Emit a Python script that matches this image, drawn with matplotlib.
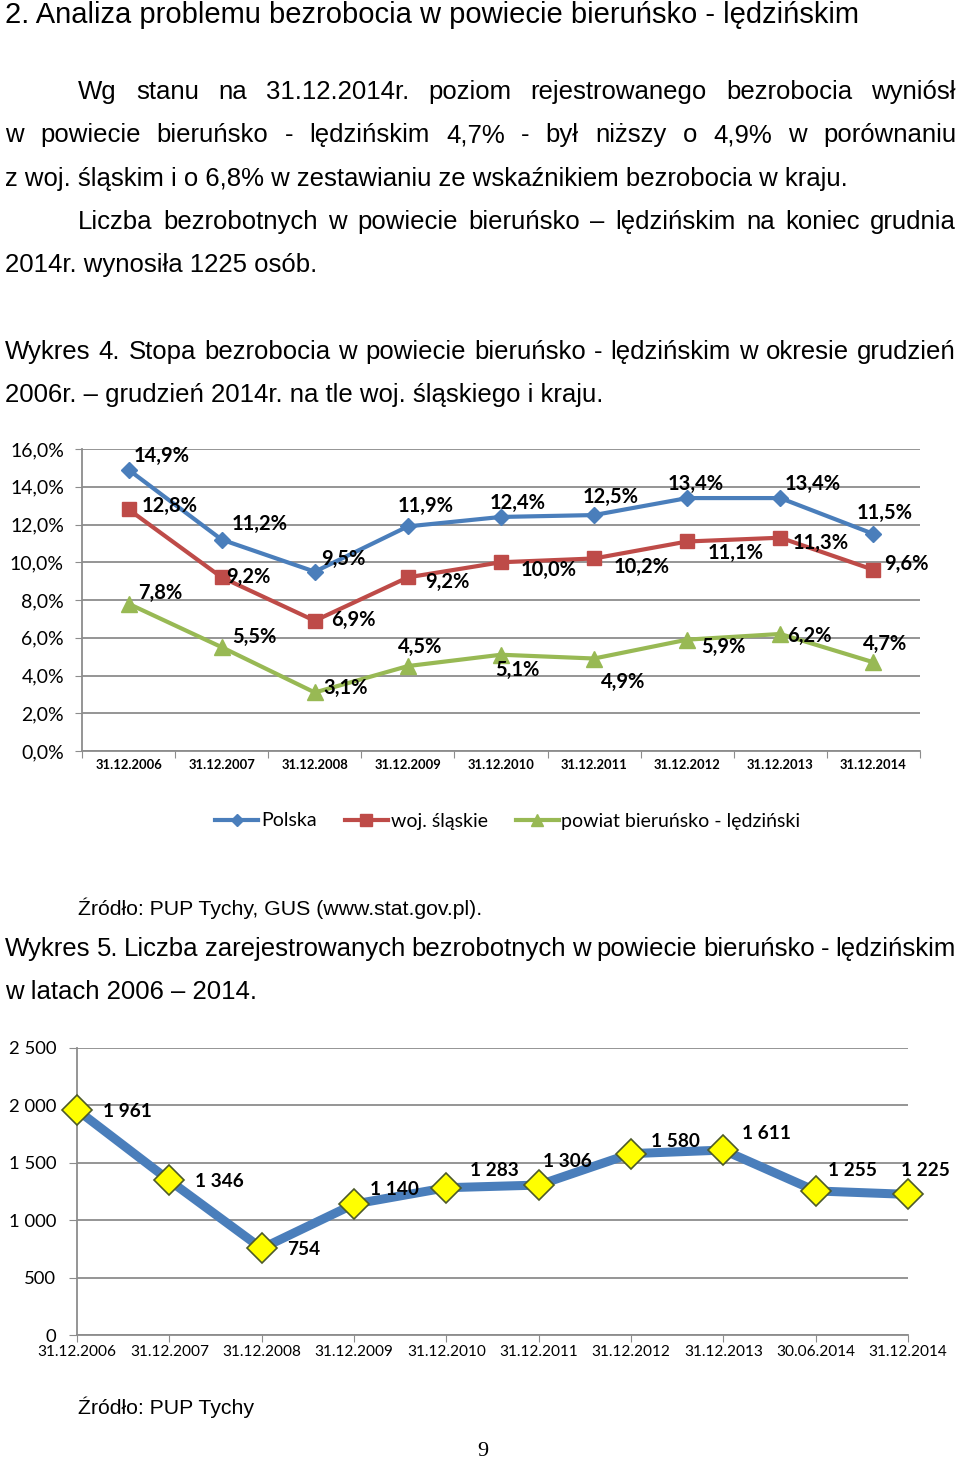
import numpy as np
import matplotlib.pyplot as plt

# ---- data ----
years_1 = ['31.12.2006', '31.12.2007', '31.12.2008', '31.12.2009', '31.12.2010',
           '31.12.2011', '31.12.2012', '31.12.2013', '31.12.2014']
polska = [14.9, 11.2, 9.5, 11.9, 12.4, 12.5, 13.4, 13.4, 11.5]
slaskie = [12.8, 9.2, 6.9, 9.2, 10.0, 10.2, 11.1, 11.3, 9.6]
powiat = [7.8, 5.5, 3.1, 4.5, 5.1, 4.9, 5.9, 6.2, 4.7]
series_names = ['Polska', 'woj. śląskie', 'powiat bieruńsko - lędziński']

dates_2 = ['31.12.2006', '31.12.2007', '31.12.2008', '31.12.2009', '31.12.2010',
           '31.12.2011', '31.12.2012', '31.12.2013', '30.06.2014', '31.12.2014']
bezrobotni = [1961, 1346, 754, 1140, 1283, 1306, 1580, 1611, 1255, 1225]

# label offsets in pixels (dx, dy up) - layout only
off_polska = [(33, 14), (38, 16), (29, 13), (18, 20), (17, 14), (17, 18), (9, 14), (32, 14), (11, 21)]
off_slaskie = [(41, 3), (27, 0), (39, 1), (39, -5), (48, -8), (48, -8), (48, -11), (40, -5), (33, 6)]
off_powiat = [(32, 11), (33, 10), (31, 5), (12, 19), (16, -15), (29, -23), (36, -7), (29, -2), (12, 18)]
off_bezr = [(50, -2), (50, -1), (42, -1), (40, 15), (48, 17), (29, 24), (44, 12), (43, 17), (37, 20), (17, 24)]

W, H = 960, 1464
BODY = 'Liberation Sans'
CHART = 'Lato'
GRID = '#8c8c8c'

fig = plt.figure(figsize=(W / 100, H / 100), dpi=100)
renderer = fig.canvas.get_renderer()


def fx(px):
    return px / W


def fy(py):
    return 1 - py / H


def put(txt, x, y, size=18.5, **kw):
    return fig.text(fx(x), fy(y), txt, fontsize=size, family=BODY, va='center', **kw)


def justify(line, x0, x1, y, size=18.5):
    # spread the words so the line fills x0..x1, like a justified paragraph
    words = line.split(' ')
    arts = [put(w, x0, y, size) for w in words]
    widths = [a.get_window_extent(renderer).width for a in arts]
    gap = (x1 - x0 - sum(widths)) / (len(words) - 1)
    x = x0
    for a, w in zip(arts, widths):
        a.set_x(fx(x))
        x += w + gap


# ---- page text ----
put('2. Analiza problemu bezrobocia w powiecie bieruńsko - lędzińskim', 5, 15, size=21)
justify('Wg stanu na 31.12.2014r. poziom rejestrowanego bezrobocia wyniósł', 78, 956, 92)
justify('w powiecie bieruńsko - lędzińskim 4,7% - był niższy o 4,9% w porównaniu', 5, 956, 135)
put('z woj. śląskim i o 6,8% w zestawianiu ze wskaźnikiem bezrobocia w kraju.', 5, 179)
justify('Liczba bezrobotnych w powiecie bieruńsko – lędzińskim na koniec grudnia', 78, 956, 222)
put('2014r. wynosiła 1225 osób.', 5, 265)
justify('Wykres 4. Stopa bezrobocia w powiecie bieruńsko - lędzińskim w okresie grudzień', 5, 956, 352)
put('2006r. – grudzień 2014r. na tle woj. śląskiego i kraju.', 5, 395)
put('Źródło: PUP Tychy, GUS (www.stat.gov.pl).', 78, 908, size=15.3)
justify('Wykres 5. Liczba zarejestrowanych bezrobotnych w powiecie bieruńsko - lędzińskim', 5, 956, 949)
put('w latach 2006 – 2014.', 5, 992)
put('Źródło: PUP Tychy', 78, 1407, size=15.3)
fig.text(fx(483), fy(1452), '9', fontsize=16, family='Liberation Serif', ha='center', va='center')

# ---- chart 1 ----
ax1 = fig.add_axes([fx(82), fy(751), fx(920) - fx(82), fy(449) - fy(751)])
x1 = np.arange(len(years_1)) + 0.5
styles = [
    (polska, '#4a7ebb', 'D', 8, off_polska),
    (slaskie, '#be4b48', 's', 10, off_slaskie),
    (powiat, '#98b954', '^', 11, off_powiat),
]
handles = []
for (vals, col, mk, ms, offs), name in zip(styles, series_names):
    ln, = ax1.plot(x1, vals, color=col, lw=3, marker=mk, ms=ms, mec=col, mfc=col, label=name,
                   zorder=3)
    handles.append(ln)
    for xi, v, (dx, dy) in zip(x1, vals, offs):
        ax1.annotate(f'{v:.1f}%'.replace('.', ','), (xi, v), xytext=(dx, dy),
                     textcoords='offset pixels', ha='center', va='center',
                     fontsize=14.5, fontweight='bold', family=CHART, zorder=4)
ax1.set_xlim(0, len(years_1))
ax1.set_ylim(0, 16)
ax1.set_yticks(np.arange(0, 17, 2))
ax1.set_yticklabels([f'{v:.1f}%'.replace('.', ',') for v in np.arange(0, 17, 2)],
                    family=CHART, fontsize=14)
ax1.set_xticks(np.arange(len(years_1) + 1))
ax1.set_xticklabels([])
ax1.set_xticks(x1, minor=True)
ax1.set_xticklabels(years_1, minor=True, family=CHART, fontsize=9.4, fontweight='bold')
ax1.tick_params(axis='x', which='major', length=5, color=GRID, direction='out')
ax1.tick_params(axis='x', which='minor', length=0, pad=6)
ax1.tick_params(axis='y', length=5, color=GRID, pad=8)
ax1.grid(axis='y', color=GRID, lw=1.3)
for s in ['top', 'right']:
    ax1.spines[s].set_visible(False)
for s in ['left', 'bottom']:
    ax1.spines[s].set_color(GRID)
    ax1.spines[s].set_linewidth(1.3)
ax1.set_axisbelow(True)

leg = fig.legend(handles=handles, loc='center', bbox_to_anchor=(fx(508), fy(821)), ncol=3,
                 frameon=False, prop={'family': CHART, 'size': 14}, handlelength=2.2,
                 handletextpad=0.15, columnspacing=1.45, markerscale=0.8)

# ---- chart 2 ----
ax2 = fig.add_axes([fx(77), fy(1335), fx(908) - fx(77), fy(1048) - fy(1335)])
x2 = np.arange(len(dates_2))
ax2.plot(x2, bezrobotni, color='#4a7ebb', lw=6.5, marker='D', ms=15, mfc='#ffff00',
         mec='#4d5a2a', mew=1.2, zorder=3, clip_on=False)
for xi, v, (dx, dy) in zip(x2, bezrobotni, off_bezr):
    ax2.annotate(f'{v:,}'.replace(',', ' '), (xi, v), xytext=(dx, dy), textcoords='offset pixels',
                 ha='center', va='center', fontsize=13.7, fontweight='bold', family=CHART, zorder=4)
ax2.set_xlim(0, len(dates_2) - 1)
ax2.set_ylim(0, 2500)
ax2.set_yticks(np.arange(0, 2501, 500))
ax2.set_yticklabels([f'{v:,}'.replace(',', ' ') for v in range(0, 2501, 500)],
                    family=CHART, fontsize=13.3)
ax2.set_xticks(x2)
ax2.set_xticklabels(dates_2, family=CHART, fontsize=11.1)
ax2.tick_params(axis='x', length=5, color=GRID, pad=2)
ax2.tick_params(axis='y', length=6, color=GRID, pad=9)
ax2.grid(axis='y', color=GRID, lw=1.3)
for s in ['top', 'right']:
    ax2.spines[s].set_visible(False)
for s in ['left', 'bottom']:
    ax2.spines[s].set_color(GRID)
    ax2.spines[s].set_linewidth(1.3)
ax2.set_axisbelow(True)

fig.savefig('out.png', dpi=100)
